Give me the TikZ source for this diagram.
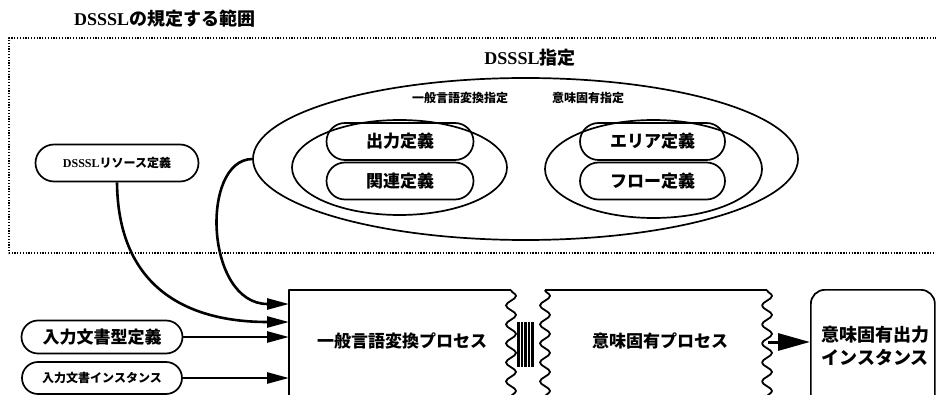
\documentclass[tikz,border=0pt]{standalone}
\usepackage{fontspec}
\setmainfont{Liberation Serif}
\newfontfamily\jp{Noto Sans CJK JP}
\usetikzlibrary{shapes.geometric,shapes.misc,arrows.meta,decorations.pathmorphing}
\newcommand{\J}[1]{{\jp #1}}
\begin{document}
\begin{tikzpicture}[x=1pt,y=-1pt, line join=round,
  big/.style={font=\bfseries\fontsize{17}{23}\selectfont},
  small/.style={font=\bfseries\fontsize{12}{14}\selectfont},
  pill/.style={rounded rectangle, draw, line width=1.7pt, inner sep=0pt},
  oval/.style={ellipse, draw, line width=1.7pt, inner sep=0pt},
  arr/.style={line width=2.6pt, -{Triangle[length=22pt,width=11pt]}},
  dots/.style={line width=1.4pt, dash pattern=on 1.3pt off 1.5pt},
  edge/.style={line width=1.7pt},
  wave/.style={line width=1.8pt, decorate, decoration={snake, segment length=19pt, amplitude=5pt}},
]
\useasboundingbox (0,0) rectangle (936,395);
\clip (0,0) rectangle (936,395);

% title
\node[anchor=west, inner sep=0pt, font=\bfseries\fontsize{18}{20}\selectfont] (title) at (74,19) {DSSSL\J{の規定する範囲}};

% dotted scope frame
\coordinate (ftr) at (945,38);
\coordinate (ftl) at (9,38);
\coordinate (fbl) at (9,253);
\coordinate (fbr) at (945,253);
\draw[dots] (ftr) -- (ftl) -- (fbl) -- (fbr);

% DSSSL specification
\node[inner sep=0pt, font=\bfseries\fontsize{18}{20}\selectfont] (spec) at (530,58) {DSSSL\J{指定}};
\node[oval, minimum width=545, minimum height=162] (outer) at (525.5,159) {};
\node[oval, minimum width=215, minimum height=95] (inl) at (399.5,167.5) {};
\node[oval, minimum width=217, minimum height=98] (inr) at (653.5,169) {};
\node[small, inner sep=0pt] (lgen) at (460,98) {\jp 一般言語変換指定};
\node[small, inner sep=0pt] (lsem) at (588,98) {\jp 意味固有指定};

\node[pill, big, minimum width=147, minimum height=37] (d1) at (400,141.5) {\jp 出力定義};
\node[pill, big, minimum width=147, minimum height=37] (d2) at (400,181) {\jp 関連定義};
\node[pill, big, minimum width=145, minimum height=37] (d3) at (652.5,141.5) {\jp エリア定義};
\node[pill, big, minimum width=145, minimum height=37] (d4) at (652.5,181) {\jp フロー定義};

% resource
\node[pill, small, minimum width=163, minimum height=37] (res) at (117,163) {DSSSL\J{リソース定義}};

% inputs
\node[pill, big, minimum width=161, minimum height=33] (in1) at (102,337) {\jp 入力文書型定義};
\node[pill, small, minimum width=160, minimum height=32] (in2) at (102,378) {\jp 入力文書インスタンス};

% process boxes
\coordinate (p1tl) at (289,290);
\coordinate (p1tr) at (511,290);
\coordinate (p1bl) at (289,400);
\coordinate (p1br) at (511,404);
\draw[edge] (p1tr) -- (p1tl) -- (p1bl);
\draw[wave] (p1tr) -- (p1br);
\coordinate (p2tl) at (545,290);
\coordinate (p2tr) at (767,290);
\coordinate (p2bl) at (545,404);
\coordinate (p2br) at (767,404);
\draw[edge] (p2tl) -- (p2tr);
\draw[wave] (p2tl) -- (p2bl);
\draw[wave] (p2tr) -- (p2br);
\foreach \x in {518.5,522,525.5,529,532.5}
  \draw[line width=2.2pt] (\x,322) -- (\x,367);

\node[big, inner sep=0pt] (p1) at (402,341) {\jp 一般言語変換プロセス};
\node[big, inner sep=0pt] (p2) at (660,341) {\jp 意味固有プロセス};

% output
\node[draw, edge, rounded corners=14pt, minimum width=124, minimum height=140, anchor=north west, inner sep=0pt] (outbox) at (810,289) {};
\node[align=center, inner sep=0pt, font=\bfseries\fontsize{18}{23}\selectfont] (outtxt) at (875,346) {\jp 意味固有出力\\\jp インスタンス};

% connectors
\coordinate (a1) at (289,304);
\coordinate (a2) at (289,322);
\coordinate (zz) at (768,342);
\draw[arr] (outer.west) .. controls (200,160) and (205,304) .. (a1);
\draw[arr] (res.south) .. controls (118,290) and (190,322) .. (a2);
\draw[arr] (in1.east) -- (in1.east -| a1);
\draw[arr] (in2.east) -- (in2.east -| a1);
\draw[line width=3pt, -{Triangle[length=32pt,width=17pt]}] (zz) -- (zz -| outbox.west);
\end{tikzpicture}
\end{document}
